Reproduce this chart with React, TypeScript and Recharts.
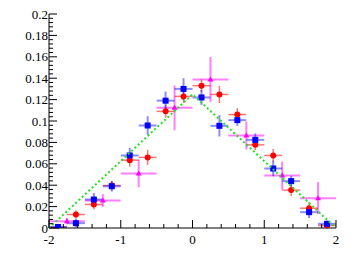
import React from 'react';
import { ComposedChart, Scatter, XAxis, YAxis, ErrorBar } from 'recharts';

// bin centres (0.25 wide) for the red and blue histograms
const binsFine = [-1.875, -1.625, -1.375, -1.125, -0.875, -0.625, -0.375, -0.125, 0.125, 0.375, 0.625, 0.875, 1.125, 1.375, 1.625, 1.875];
const redValues = [0.0008, 0.0126, 0.022, 0.0397, 0.0634, 0.066, 0.109, 0.123, 0.133, 0.1248, 0.106, 0.0777, 0.0678, 0.0354, 0.0185, 0.0023];
const redErrors = [0.002, 0.004, 0.0045, 0.004, 0.006, 0.007, 0.006, 0.006, 0.006, 0.008, 0.006, 0.005, 0.006, 0.0055, 0.0055, 0.003];
const blueValues = [0.001, 0.0045, 0.0266, 0.039, 0.0678, 0.0958, 0.119, 0.13, 0.122, 0.0955, 0.1008, 0.0824, 0.0556, 0.0438, 0.0148, 0.0039];
const blueErrors = [0.002, 0.004, 0.006, 0.005, 0.007, 0.0087, 0.0085, 0.01, 0.007, 0.01, 0.0055, 0.006, 0.0073, 0.005, 0.0055, 0.003];

// bin centres (0.5 wide) for the magenta histogram
const binsCoarse = [-1.75, -1.25, -0.75, -0.25, 0.25, 0.75, 1.25, 1.75];
const magentaValues = [0.0064, 0.0257, 0.051, 0.1123, 0.1388, 0.0864, 0.049, 0.0279];
const magentaErrors = [0.003, 0.006, 0.013, 0.021, 0.021, 0.013, 0.013, 0.015];

// green dashed triangle
const lineX = [-2, 0, 2];
const lineY = [0, 0.125, 0];

const xMajorTicks = [-2, -1, 0, 1, 2];
const yMajorTicks = [0, 0.02, 0.04, 0.06, 0.08, 0.1, 0.12, 0.14, 0.16, 0.18, 0.2];
const xTicks = Array.from({ length: 21 }, (_, i) => Math.round((-2 + i * 0.2) * 10) / 10);
const yTicks = Array.from({ length: 51 }, (_, i) => (i * 4) / 1000);

const redData = binsFine.map((x, i) => ({ x, y: redValues[i], ex: 0.125, ey: redErrors[i] }));
const blueData = binsFine.map((x, i) => ({ x, y: blueValues[i], ex: 0.125, ey: blueErrors[i] }));
const magentaData = binsCoarse.map((x, i) => ({ x, y: magentaValues[i], ex: 0.25, ey: magentaErrors[i] }));
const lineData = lineX.map((x, i) => ({ x, y: lineY[i] }));

const font = { fontFamily: '"Liberation Serif", "DejaVu Serif", serif', fontSize: 13, fill: '#000' };

const isMajorY = (v: number) => Math.round(v * 1000) % 20 === 0;

function BottomTick({ x, y, payload }: any) {
  const major = xMajorTicks.includes(payload.value);
  return (
    <g>
      <line x1={x} x2={x} y1={y} y2={y - (major ? 8 : 4)} stroke="#000" />
      {major && (
        <text x={x} y={y + 16} textAnchor="middle" {...font}>
          {String(payload.value)}
        </text>
      )}
    </g>
  );
}

function TopTick({ x, y, payload }: any) {
  const major = xMajorTicks.includes(payload.value);
  return <line x1={x} x2={x} y1={y} y2={y + (major ? 8 : 4)} stroke="#000" />;
}

function LeftTick({ x, y, payload }: any) {
  const major = isMajorY(payload.value);
  return (
    <g>
      <line x1={x} x2={x + (major ? 8 : 4)} y1={y} y2={y} stroke="#000" />
      {major && (
        <text x={x - 1} y={y + 4.5} textAnchor="end" {...font}>
          {String(Math.round(payload.value * 100) / 100)}
        </text>
      )}
    </g>
  );
}

function RightTick({ x, y, payload }: any) {
  const major = isMajorY(payload.value);
  return <line x1={x} x2={x - (major ? 8 : 4)} y1={y} y2={y} stroke="#000" />;
}

const Circle = ({ cx, cy }: any) => <circle cx={cx} cy={cy} r={3} fill="#ff0000" />;
const Square = ({ cx, cy }: any) => <rect x={cx - 3} y={cy - 3} width={6} height={6} fill="#0000ff" />;
const Triangle = ({ cx, cy }: any) => (
  <polygon points={`${cx},${cy - 3} ${cx - 3},${cy + 2} ${cx + 3},${cy + 2}`} fill="#ff00ff" />
);
const Nothing = () => <g />;

export default function App() {
  return (
    <div style={{ position: 'absolute', left: 0, top: 0, background: '#fff' }}>
      <ComposedChart width={354} height={273} margin={{ top: 14, right: 18, left: 4, bottom: 15 }}>
        <XAxis
          type="number"
          dataKey="x"
          domain={[-2, 2]}
          ticks={xTicks}
          interval={0}
          height={30}
          tickSize={0}
          tickMargin={0}
          tick={<BottomTick />}
          axisLine={{ stroke: '#000' }}
          allowDataOverflow
        />
        <XAxis
          xAxisId="top"
          orientation="top"
          type="number"
          domain={[-2, 2]}
          ticks={xTicks}
          interval={0}
          height={0}
          tickSize={0}
          tickMargin={0}
          tick={<TopTick />}
          axisLine={{ stroke: '#000' }}
        />
        <YAxis
          type="number"
          dataKey="y"
          domain={[0, 0.2]}
          ticks={yTicks}
          interval={0}
          width={45}
          tickSize={0}
          tickMargin={0}
          tick={<LeftTick />}
          axisLine={{ stroke: '#000' }}
          allowDataOverflow
        />
        <YAxis
          yAxisId="right"
          orientation="right"
          type="number"
          domain={[0, 0.2]}
          ticks={yTicks}
          interval={0}
          width={0}
          tickSize={0}
          tickMargin={0}
          tick={<RightTick />}
          axisLine={{ stroke: '#000' }}
        />
        <Scatter data={magentaData} shape={<Triangle />} isAnimationActive={false}>
          <ErrorBar dataKey="ex" direction="x" width={0} stroke="rgba(255,0,255,0.5)" strokeWidth={2} />
          <ErrorBar dataKey="ey" direction="y" width={0} stroke="rgba(255,0,255,0.5)" strokeWidth={2} />
        </Scatter>
        <Scatter data={redData} shape={<Circle />} isAnimationActive={false}>
          <ErrorBar dataKey="ex" direction="x" width={0} stroke="rgba(255,0,0,0.55)" strokeWidth={1.5} />
          <ErrorBar dataKey="ey" direction="y" width={0} stroke="rgba(255,0,0,0.55)" strokeWidth={1.5} />
        </Scatter>
        <Scatter data={blueData} shape={<Square />} isAnimationActive={false}>
          <ErrorBar dataKey="ex" direction="x" width={0} stroke="rgba(0,0,255,0.45)" strokeWidth={2} />
          <ErrorBar dataKey="ey" direction="y" width={0} stroke="rgba(0,0,255,0.45)" strokeWidth={2} />
        </Scatter>
        <Scatter
          data={lineData}
          shape={<Nothing />}
          line={{ stroke: '#22e022', strokeWidth: 2, strokeDasharray: '2 2.5' }}
          isAnimationActive={false}
        />
      </ComposedChart>
    </div>
  );
}
